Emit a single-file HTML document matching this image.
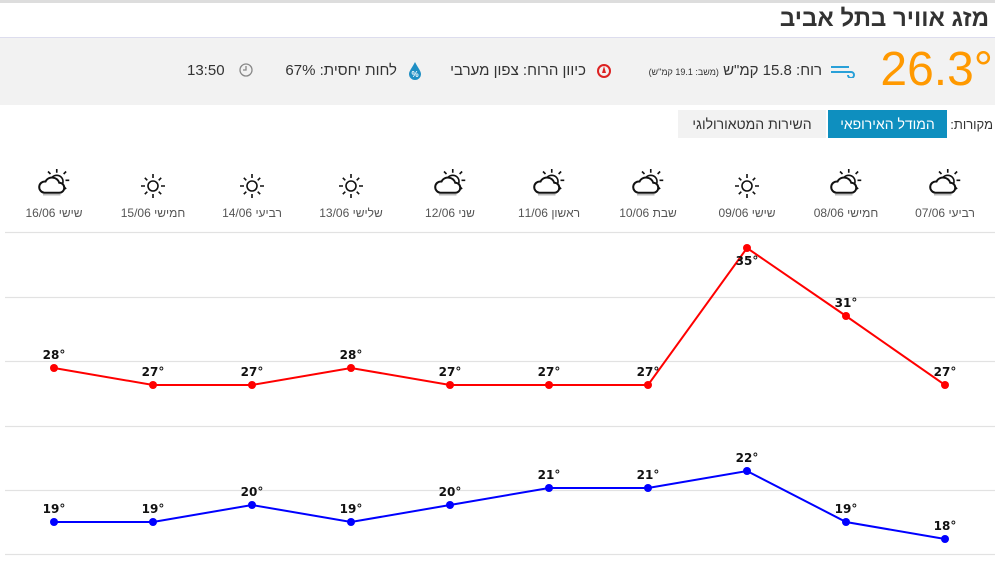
<!DOCTYPE html>
<html><head><meta charset="utf-8"><style>
body{margin:0;width:995px;height:569px;background:#fff;position:relative;overflow:hidden;font-family:"Liberation Sans","Noto Sans CJK SC",sans-serif;color:#333}
.a{position:absolute;white-space:nowrap}
.r{position:absolute;white-space:nowrap;direction:rtl;text-align:right}
</style></head><body>
<div class="a" style="left:0;top:0;width:995px;height:3px;background:#ddd"></div>
<div class="r" style="right:6px;top:5px;font-size:24px;font-weight:bold;color:#333">מזג אוויר בתל אביב</div>
<div class="a" style="left:0;top:37px;width:995px;height:1px;background:#dde"></div>
<div class="a" style="left:0;top:38px;width:995px;height:67px;background:#f2f2f2"></div>
<div class="a" style="right:2px;top:42px;font-size:48px;color:#f90">26.3°</div>
<svg class="a" style="left:829px;top:62px" width="26" height="16"><path d="M2 5h18M2 10h20a3 3 0 1 1 -3 3" stroke="#29a0d8" stroke-width="2" fill="none"/></svg>
<div class="r" style="right:173px;top:62px;font-size:15px">רוח: 15.8 קמ"ש <span style="font-size:9px">(משב: 19.1 קמ"ש)</span></div>
<svg class="a" style="left:596px;top:63px" width="16" height="16"><circle cx="8" cy="8" r="6" stroke="#d22" stroke-width="2" fill="none"/><path d="M8 3l2 7h-4z" fill="#d22"/></svg>
<div class="r" style="right:409px;top:62px;font-size:15px">כיוון הרוח: צפון מערבי</div>
<svg class="a" style="left:406px;top:61px" width="18" height="20"><path d="M9 1C6 7 3 10 3 13a6 6 0 0 0 12 0c0-3-3-6-6-12z" fill="#1f8fc4"/><text x="9" y="16" font-size="8" fill="#fff" text-anchor="middle" font-weight="bold">%</text></svg>
<div class="r" style="right:598px;top:62px;font-size:15px">לחות יחסית: 67%</div>
<svg class="a" style="left:238px;top:62px" width="16" height="16"><circle cx="8" cy="8" r="6" stroke="#888" stroke-width="1.3" fill="none"/><path d="M8 4v4h-3" stroke="#888" stroke-width="1.3" fill="none"/></svg>
<div class="a" style="left:187px;top:62px;font-size:15px">13:50</div>
<div class="r" style="right:2px;top:117px;font-size:13px">מקורות:</div>
<div class="a" style="left:828px;top:110px;width:119px;height:28px;background:#0e8fbf;color:#fff;font-size:14px;line-height:28px;text-align:center;direction:rtl">המודל האירופאי</div>
<div class="a" style="left:678px;top:110px;width:148px;height:28px;background:#f2f2f2;color:#333;font-size:14px;line-height:28px;text-align:center;direction:rtl">השירות המטאורולוגי</div>
<svg class="a" style="left:0;top:0" width="995" height="569" font-family="Liberation Sans, sans-serif">
<defs>
<g id="sun"><circle cx="0" cy="0" r="5" fill="none" stroke="#111" stroke-width="1.6"/><g stroke="#111" stroke-width="1.6"><path d="M0-8v-4M0 8v4M-8 0h-4M8 0h4M5.7-5.7l2.5-2.5M-5.7 5.7l-2.5 2.5M5.7 5.7l2.5 2.5M-5.7-5.7l-2.5-2.5"/></g></g>
<g id="cl"><g stroke="#111" stroke-width="1.3"><path d="M3-9v-3M10-3h3M8.5-8l2-2M8.5 2l2 2M-2-8l-2-2"/></g><circle cx="3" cy="-2" r="5" fill="none" stroke="#111" stroke-width="1.3"/><path d="M-7 7a4.5 4.5 0 0 1 1-9a6 6 0 0 1 11 1a4 4 0 0 1 0 8z" fill="#fff" stroke="#111" stroke-width="1.6"/><path d="M-8 8.5h14" stroke="#bbb" stroke-width="1.3"/></g>
</defs>
<g transform="translate(944,184) scale(1.25)"><use href="#cl"/></g>
<g transform="translate(845,184) scale(1.25)"><use href="#cl"/></g>
<g transform="translate(747,186)"><use href="#sun"/></g>
<g transform="translate(647,184) scale(1.25)"><use href="#cl"/></g>
<g transform="translate(548,184) scale(1.25)"><use href="#cl"/></g>
<g transform="translate(449,184) scale(1.25)"><use href="#cl"/></g>
<g transform="translate(351,186)"><use href="#sun"/></g>
<g transform="translate(252,186)"><use href="#sun"/></g>
<g transform="translate(153,186)"><use href="#sun"/></g>
<g transform="translate(53,184) scale(1.25)"><use href="#cl"/></g>
<g font-size="12" fill="#555" text-anchor="middle" direction="rtl">
<text x="945" y="217">רביעי 07/06</text><text x="846" y="217">חמישי 08/06</text><text x="747" y="217">שישי 09/06</text><text x="648" y="217">שבת 10/06</text><text x="549" y="217">ראשון 11/06</text><text x="450" y="217">שני 12/06</text><text x="351" y="217">שלישי 13/06</text><text x="252" y="217">רביעי 14/06</text><text x="153" y="217">חמישי 15/06</text><text x="54" y="217">שישי 16/06</text>
</g>
<g stroke="#e2e2e2" stroke-width="1.3"><path d="M5 232.5H995M5 297.5H995M5 361.5H995M5 426.5H995M5 490.5H995M5 554.5H995"/></g>
<polyline fill="none" stroke="#f00" stroke-width="2" points="54,368 153,385 252,385 351,368 450,385 549,385 648,385 747,248 846,316 945,385"/>
<g fill="#f00"><circle cx="54" cy="368" r="4"/><circle cx="153" cy="385" r="4"/><circle cx="252" cy="385" r="4"/><circle cx="351" cy="368" r="4"/><circle cx="450" cy="385" r="4"/><circle cx="549" cy="385" r="4"/><circle cx="648" cy="385" r="4"/><circle cx="747" cy="248" r="4"/><circle cx="846" cy="316" r="4"/><circle cx="945" cy="385" r="4"/></g>
<polyline fill="none" stroke="#00f" stroke-width="2" points="54,522 153,522 252,505 351,522 450,505 549,488 648,488 747,471 846,522 945,539"/>
<g fill="#00f"><circle cx="54" cy="522" r="4"/><circle cx="153" cy="522" r="4"/><circle cx="252" cy="505" r="4"/><circle cx="351" cy="522" r="4"/><circle cx="450" cy="505" r="4"/><circle cx="549" cy="488" r="4"/><circle cx="648" cy="488" r="4"/><circle cx="747" cy="471" r="4"/><circle cx="846" cy="522" r="4"/><circle cx="945" cy="539" r="4"/></g>
<g font-family="DejaVu Sans, sans-serif" font-size="12" font-weight="bold" fill="#111" text-anchor="middle" direction="ltr">
<text x="54" y="359">28°</text><text x="153" y="376">27°</text><text x="252" y="376">27°</text><text x="351" y="359">28°</text><text x="450" y="376">27°</text><text x="549" y="376">27°</text><text x="648" y="376">27°</text><text x="747" y="265">35°</text><text x="846" y="307">31°</text><text x="945" y="376">27°</text>
<text x="54" y="513">19°</text><text x="153" y="513">19°</text><text x="252" y="496">20°</text><text x="351" y="513">19°</text><text x="450" y="496">20°</text><text x="549" y="479">21°</text><text x="648" y="479">21°</text><text x="747" y="462">22°</text><text x="846" y="513">19°</text><text x="945" y="530">18°</text>
</g>
</svg>
</body></html>
